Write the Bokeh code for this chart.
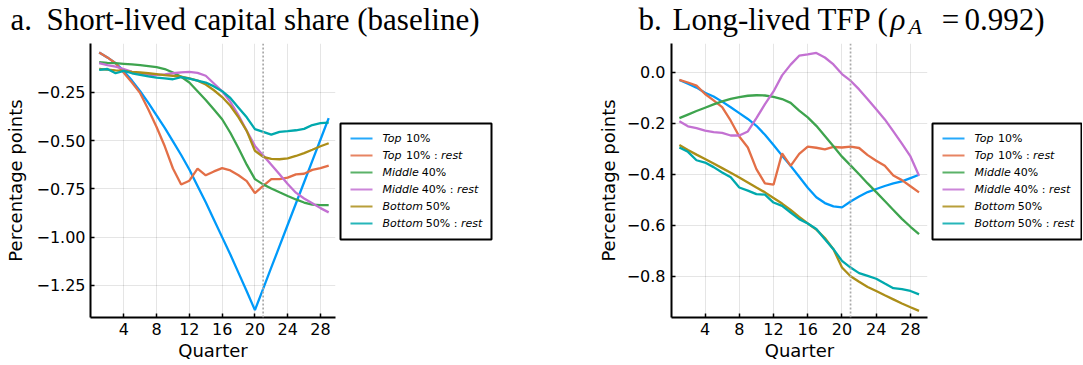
from bokeh.plotting import figure
from bokeh.models import Range1d, FixedTicker, Span, CustomJSTickFormatter
from bokeh.layouts import row, column
from bokeh.embed import file_html
from bokeh.resources import INLINE
from bokeh.core.properties import value

# ---------------- data ----------------
quarters = list(range(1, 30))
shock_end = 21
x_ticks = [4, 8, 12, 16, 20, 24, 28]

series_names = ["Top 10%", "Top 10% : rest", "Middle 40%", "Middle 40% : rest",
                "Bottom 50%", "Bottom 50% : rest"]
legend_word = ["Top", "Top", "Middle", "Middle", "Bottom", "Bottom"]
legend_num = ["10%", "10% :", "40%", "40% :", "50%", "50% :"]
legend_rest = ["", "rest", "", "rest", "", "rest"]
colors = ["#009AFA", "#E36F47", "#3EA44E", "#C371D2", "#AC8E18", "#00A9AD"]

title_a = "Short-lived capital share (baseline)"
title_b = "Long-lived TFP ("
x_label = "Quarter"
y_label = "Percentage points"

# panel a: short-lived capital share
a_top10 = [-0.045, -0.07, -0.10, -0.14, -0.19, -0.245, -0.305, -0.37, -0.435, -0.505,
           -0.575, -0.65, -0.735, -0.82, -0.91, -1.0, -1.09, -1.185, -1.28, -1.378,
           -1.268, -1.157, -1.047, -0.936, -0.826, -0.716, -0.605, -0.495, -0.384]
a_top10_rest = [-0.045, -0.07, -0.10, -0.15, -0.20, -0.255, -0.34, -0.43, -0.53, -0.645,
                -0.728, -0.708, -0.645, -0.68, -0.66, -0.643, -0.655, -0.68, -0.71, -0.772,
                -0.735, -0.70, -0.70, -0.692, -0.675, -0.672, -0.652, -0.643, -0.63]
a_mid40 = [-0.095, -0.098, -0.10, -0.103, -0.106, -0.11, -0.115, -0.12, -0.13, -0.148,
           -0.17, -0.20, -0.245, -0.29, -0.34, -0.39, -0.46, -0.54, -0.625, -0.70,
           -0.727, -0.748, -0.768, -0.787, -0.805, -0.821, -0.832, -0.834, -0.834]
a_mid40_rest = [-0.10, -0.11, -0.118, -0.13, -0.145, -0.155, -0.16, -0.162, -0.158, -0.152,
                -0.147, -0.145, -0.15, -0.165, -0.205, -0.245, -0.30, -0.37, -0.45, -0.528,
                -0.577, -0.625, -0.675, -0.725, -0.77, -0.80, -0.825, -0.85, -0.872]
a_bot50 = [-0.13, -0.133, -0.137, -0.14, -0.145, -0.148, -0.152, -0.157, -0.162, -0.166,
           -0.17, -0.178, -0.19, -0.21, -0.24, -0.275, -0.32, -0.38, -0.45, -0.553,
           -0.585, -0.595, -0.597, -0.592, -0.58, -0.565, -0.548, -0.53, -0.514]
a_bot50_rest = [-0.135, -0.13, -0.152, -0.14, -0.152, -0.16, -0.168, -0.175, -0.178, -0.183,
                -0.172, -0.18, -0.19, -0.20, -0.22, -0.245, -0.28, -0.33, -0.38, -0.441,
                -0.455, -0.47, -0.455, -0.452, -0.447, -0.44, -0.42, -0.41, -0.407]

# panel b: long-lived TFP
b_top10 = [-0.03, -0.045, -0.06, -0.08, -0.095, -0.115, -0.137, -0.16, -0.183, -0.21,
           -0.245, -0.285, -0.327, -0.367, -0.41, -0.453, -0.49, -0.513, -0.526, -0.53,
           -0.507, -0.487, -0.47, -0.458, -0.446, -0.436, -0.428, -0.415, -0.402]
b_top10_rest = [-0.03, -0.04, -0.052, -0.085, -0.11, -0.137, -0.19, -0.252, -0.295, -0.38,
                -0.436, -0.441, -0.318, -0.367, -0.32, -0.292, -0.296, -0.302, -0.293, -0.295,
                -0.292, -0.297, -0.325, -0.347, -0.367, -0.405, -0.423, -0.447, -0.471]
b_mid40 = [-0.18, -0.166, -0.152, -0.139, -0.126, -0.114, -0.104, -0.097, -0.092, -0.09,
           -0.091, -0.096, -0.105, -0.12, -0.15, -0.177, -0.21, -0.25, -0.29, -0.331,
           -0.365, -0.40, -0.436, -0.47, -0.505, -0.54, -0.575, -0.606, -0.635]
b_mid40_rest = [-0.192, -0.212, -0.219, -0.229, -0.235, -0.238, -0.248, -0.248, -0.232, -0.18,
                -0.125, -0.075, -0.012, 0.03, 0.065, 0.07, 0.076, 0.058, 0.031, -0.007,
                -0.033, -0.067, -0.106, -0.145, -0.185, -0.232, -0.28, -0.33, -0.406]
b_bot50 = [-0.285, -0.305, -0.323, -0.34, -0.358, -0.376, -0.394, -0.413, -0.432, -0.452,
           -0.471, -0.493, -0.515, -0.54, -0.567, -0.593, -0.617, -0.65, -0.694, -0.766,
           -0.80, -0.822, -0.842, -0.858, -0.875, -0.891, -0.907, -0.922, -0.936]
b_bot50_rest = [-0.295, -0.312, -0.345, -0.354, -0.372, -0.393, -0.412, -0.452, -0.464, -0.478,
                -0.48, -0.511, -0.524, -0.55, -0.576, -0.593, -0.615, -0.655, -0.694, -0.74,
                -0.766, -0.788, -0.799, -0.81, -0.829, -0.847, -0.851, -0.858, -0.871]

panel_a = [a_top10, a_top10_rest, a_mid40, a_mid40_rest, a_bot50, a_bot50_rest]
panel_b = [b_top10, b_top10_rest, b_mid40, b_mid40_rest, b_bot50, b_bot50_rest]
a_yticks = [-1.25, -1.0, -0.75, -0.5, -0.25]
b_yticks = [-0.8, -0.6, -0.4, -0.2, 0.0]

# ---------------- layout ----------------
TITLE_H = 43
ROW_H = 322
BOTTOM_B = 48
FRAME_H = ROW_H - BOTTOM_B
SANS = "DejaVu Sans"
SERIF = "Liberation Serif"

# DejaVu Sans advance widths (em) for legend text placement
CW = {"T": 0.611, "o": 0.612, "p": 0.635, "M": 0.863, "i": 0.278, "d": 0.635, "l": 0.278,
      "e": 0.615, "B": 0.686, "t": 0.392, "m": 0.974, "1": 0.636, "0": 0.636, "4": 0.636,
      "5": 0.636, "%": 0.95, " ": 0.318, ":": 0.337}


def text_w(s, size):
    return sum(CW.get(c, 0.6) for c in s) * size


def make_panel(series, x_rng, y_rng, yticks, fmt_digits, width, left, frame_w,
               ylab_standoff, ytick_standoff):
    p = figure(width=width, height=ROW_H, x_range=Range1d(*x_rng), y_range=Range1d(*y_rng),
               output_backend="svg", toolbar_location=None,
               min_border_left=left, min_border_right=width - left - frame_w,
               min_border_top=0, min_border_bottom=BOTTOM_B)
    p.outline_line_color = None
    p.background_fill_color = "white"
    p.border_fill_color = "white"
    for ys, c in zip(series, colors):
        p.line(quarters, ys, line_color=c, line_width=2.3)
    p.add_layout(Span(location=shock_end, dimension="height", line_color="#aaaaaa",
                      line_dash="2 2", line_width=1.7))
    p.xaxis.ticker = FixedTicker(ticks=x_ticks)
    p.yaxis.ticker = FixedTicker(ticks=yticks)
    p.yaxis.formatter = CustomJSTickFormatter(
        code="return tick.toFixed(%d).replace('-', '\\u2212');" % fmt_digits)
    p.xaxis.axis_label = x_label
    p.yaxis.axis_label = y_label
    for ax in (p.xaxis, p.yaxis):
        ax.axis_line_width = 2
        ax.axis_line_color = "black"
        ax.major_tick_in = 4
        ax.major_tick_out = 0
        ax.major_tick_line_width = 1.5
        ax.major_tick_line_color = "black"
        ax.minor_tick_line_color = None
        ax.major_label_text_font = SANS
        ax.major_label_text_font_size = "16px"
        ax.major_label_text_color = "black"
        ax.axis_label_text_font = SANS
        ax.axis_label_text_font_size = "18px"
        ax.axis_label_text_font_style = "normal"
        ax.axis_label_text_color = "black"
    p.xaxis.major_label_standoff = 5
    p.xaxis.axis_label_standoff = 2
    p.yaxis.major_label_standoff = ytick_standoff
    p.yaxis.axis_label_standoff = ylab_standoff
    p.grid.grid_line_color = "black"
    p.grid.grid_line_alpha = 0.1
    p.grid.grid_line_width = 1
    return p


def make_legend(width, box_left, box_right):
    # frame height equals the panels' frame height (row aligns top/bottom borders)
    L = figure(width=width, height=ROW_H, x_range=Range1d(0, width),
               y_range=Range1d(FRAME_H, 0),
               output_backend="svg", toolbar_location=None, x_axis_type=None, y_axis_type=None,
               min_border_left=0, min_border_right=0, min_border_top=0,
               min_border_bottom=BOTTOM_B)
    L.outline_line_color = None
    L.grid.visible = False
    L.background_fill_color = "white"
    L.border_fill_color = "white"
    L.quad(left=[box_left], right=[box_right], top=[80], bottom=[196],
           fill_color="white", line_color="black", line_width=2)
    ys = [95 + 17 * i for i in range(len(series_names))]
    L.segment(x0=[box_left + 10] * 6, x1=[box_left + 32] * 6, y0=ys, y1=ys,
              line_color=colors, line_width=2, line_alpha=0.85)
    x_word = box_left + 42
    x_num = [x_word + text_w(w, 11) + 3 for w in legend_word]
    x_rest = [xn + text_w(n, 11) + 3.5 for xn, n in zip(x_num, legend_num)]
    common = dict(text_font=value(SANS), text_font_size="11px", text_baseline="middle",
                  text_color="black")
    L.text(x=[x_word] * 6, y=ys, text=legend_word, text_font_style="italic", **common)
    L.text(x=x_num, y=ys, text=legend_num, **common)
    L.text(x=x_rest, y=ys, text=legend_rest, text_font_style="italic", **common)
    return L


# title strip
T = figure(width=1082, height=TITLE_H, x_range=Range1d(0, 1082), y_range=Range1d(TITLE_H, 0),
           output_backend="svg", toolbar_location=None, x_axis_type=None, y_axis_type=None,
           min_border=0)
T.outline_line_color = None
T.grid.visible = False
T.background_fill_color = "white"
T.border_fill_color = "white"
tcommon = dict(text_font=value(SERIF), text_font_size="31px", text_baseline="middle",
               text_color="black")
T.text(x=[10, 46, 638, 672], y=[18.5] * 4, text=["a.", title_a, "b.", title_b], **tcommon)
T.text(x=[890], y=[18.5], text=["ρ"], text_font_style="italic", **tcommon)
T.text(x=[908], y=[25.5], text=["A"], text_font=value(SERIF), text_font_size="22px",
       text_font_style="italic", text_baseline="middle", text_color="black")
T.text(x=[950], y=[18.5], text=["="], text_align="center", **tcommon)
T.text(x=[1044], y=[18.5], text=["0.992)"], text_align="right", **tcommon)

fig_a = make_panel(panel_a, (-0.06, 29.83), (-1.416, 0.002), a_yticks, 2,
                   width=336, left=90, frame_w=245, ylab_standoff=7, ytick_standoff=5)
leg_a = make_legend(254, 4, 155)
fig_b = make_panel(panel_b, (0.08, 29.99), (-0.962, 0.113), b_yticks, 1,
                   width=338, left=81, frame_w=256, ylab_standoff=5, ytick_standoff=6)
leg_b = make_legend(154, 4, 153)

layout = column(T, row(fig_a, leg_a, fig_b, leg_b))
open("out.html", "w").write(file_html(layout, INLINE))
